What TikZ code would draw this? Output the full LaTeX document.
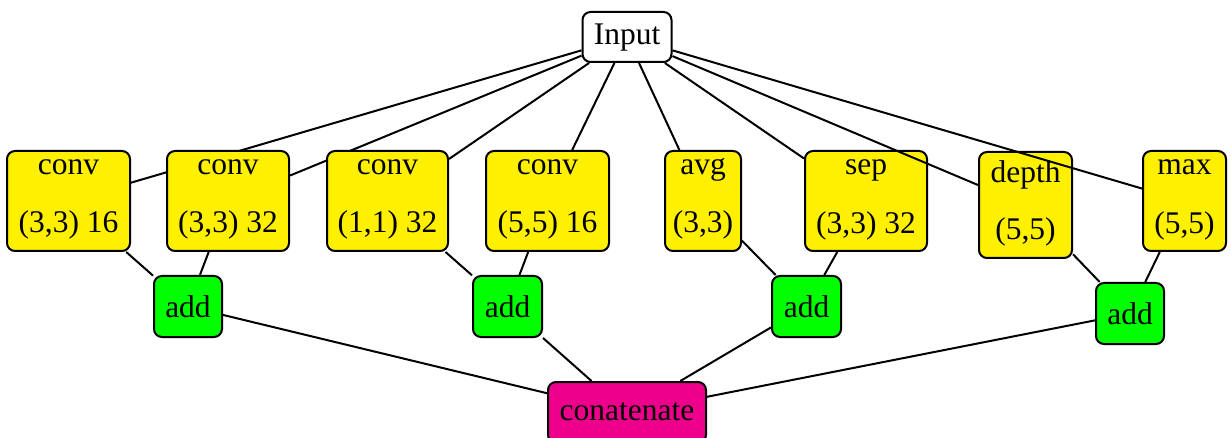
\documentclass[tikz,border=0pt]{standalone}
\usepackage{fontspec}
\newfontfamily\tmsfam{Liberation Serif}
\newcommand\dfont{\tmsfam\fontsize{31.5}{36}\selectfont}
\usetikzlibrary{backgrounds}
\definecolor{ycol}{HTML}{FFF000}
\definecolor{gcol}{HTML}{00FF00}
\definecolor{mcol}{HTML}{EC008C}
\tikzset{
  box/.style={draw, line width=2pt, rounded corners=8pt, inner sep=0pt, font=\dfont},
  ybox/.style={box, fill=ycol, minimum height=100pt},
  gbox/.style={box, fill=gcol, minimum width=68pt, minimum height=61pt, text height=22pt, text depth=1pt},
  lbl/.style={anchor=base, inner sep=0pt, font=\dfont},
  edge/.style={line width=2pt},
}
\begin{document}
\begin{tikzpicture}[x=1pt,y=-1pt]
\useasboundingbox (0,0) rectangle (1231,438);
% top
\node[box, fill=white, minimum width=89pt, minimum height=50pt, text height=22pt, text depth=7pt] (in) at (627,37) {Input};
% middle boxes
\node[ybox, minimum width=123pt] (c1) at (68.5,201) {};
\node[lbl] (c1a) at (68.5,175) {conv};
\node[lbl] (c1b) at (68.5,233) {(3,3) 16};
\node[ybox, minimum width=122pt] (c2) at (228,201) {};
\node[lbl] (c2a) at (228,175) {conv};
\node[lbl] (c2b) at (228,233) {(3,3) 32};
\node[ybox, minimum width=121pt] (c3) at (387.5,201) {};
\node[lbl] (c3a) at (387.5,175) {conv};
\node[lbl] (c3b) at (387.5,233) {(1,1) 32};
\node[ybox, minimum width=123pt] (c4) at (547.5,201) {};
\node[lbl] (c4a) at (547.5,175) {conv};
\node[lbl] (c4b) at (547.5,233) {(5,5) 16};
\node[ybox, minimum width=76pt] (avg) at (703,201) {};
\node[lbl] (avga) at (703,175) {avg};
\node[lbl] (avgb) at (703,233) {(3,3)};
\node[ybox, minimum width=122pt] (sep) at (866,201) {};
\node[lbl] (sepa) at (866,175) {sep};
\node[lbl] (sepb) at (866,234) {(3,3) 32};
\node[ybox, minimum width=93pt, minimum height=106pt] (dep) at (1025.5,205) {};
\node[lbl] (depa) at (1025.5,183) {depth};
\node[lbl] (depb) at (1025.5,240) {(5,5)};
\node[ybox, minimum width=83pt] (max) at (1184.5,201) {};
\node[lbl] (maxa) at (1184.5,175) {max};
\node[lbl] (maxb) at (1184.5,234) {(5,5)};
% add nodes
\node[gbox] (a1) at (188,306.5) {add};
\node[gbox, minimum width=69pt] (a2) at (507.5,306.5) {add};
\node[gbox, minimum width=69pt] (a3) at (806.5,306.5) {add};
\node[gbox] (a4) at (1130,313.5) {add};
% concatenate
\node[box, fill=mcol, minimum width=158pt, minimum height=61pt, text height=22pt, text depth=7pt] (cat) at (627,412.5) {conatenate};
% edges hidden behind boxes
\begin{scope}[on background layer]
\draw[edge] (in) -- (c1);
\draw[edge] (in) -- (c2);
\draw[edge] (in) -- (c3);
\draw[edge] (in) -- (c4);
\draw[edge] (in) -- (avg);
\draw[edge] (in) -- (sep);
\draw[edge] (c1) -- (a1);
\draw[edge] (c2) -- (a1);
\draw[edge] (c3) -- (a2);
\draw[edge] (c4) -- (a2);
\draw[edge] (avg) -- (a3);
\draw[edge] (sep) -- (a3);
\draw[edge] (dep) -- (a4);
\draw[edge] (max) -- (a4);
\draw[edge] (a1) -- (cat);
\draw[edge] (a2) -- (cat);
\draw[edge] (a3) -- (cat);
\draw[edge] (a4) -- (cat);
\end{scope}
% edges drawn over boxes
\draw[edge] (in) -- (dep);
\draw[edge] (in) -- (max);
\end{tikzpicture}
\end{document}
